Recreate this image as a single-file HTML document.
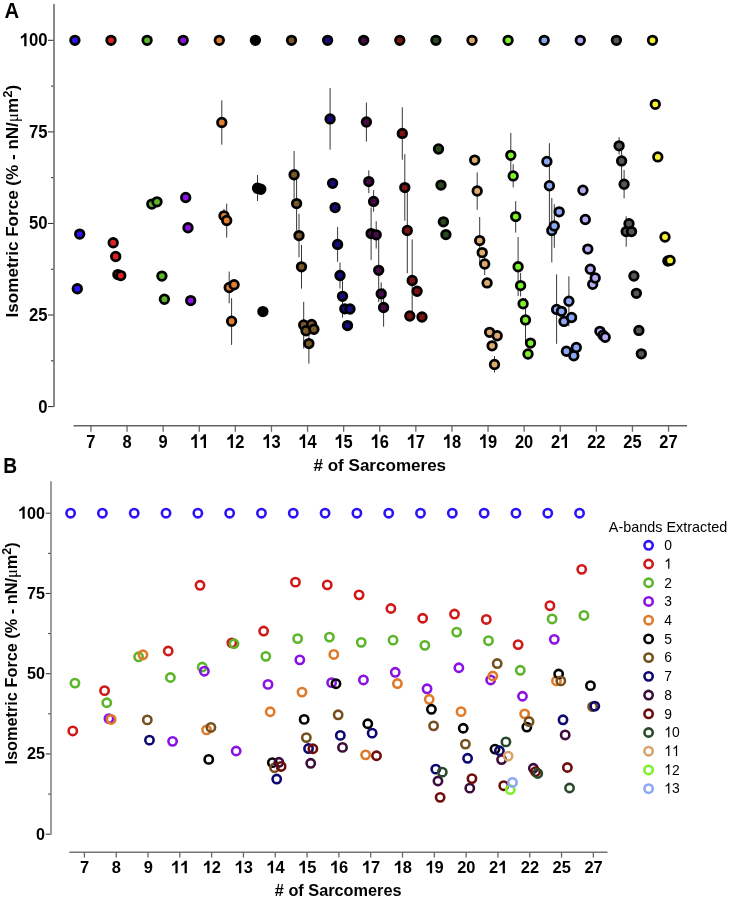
<!DOCTYPE html><html><head><meta charset="utf-8"><title>Isometric force vs sarcomeres</title>
<style>html,body{margin:0;padding:0;background:#fff;}svg{display:block;will-change:transform;}text{font-family:"Liberation Sans", sans-serif;}</style></head><body>
<svg width="730" height="899" viewBox="0 0 730 899">
<rect width="730" height="899" fill="#fff"/>
<g stroke="#626262" stroke-width="1.5" fill="none">
<line x1="54" y1="4" x2="54" y2="406.9"/>
<line x1="73.5" y1="425.7" x2="687" y2="425.7"/>
</g>
<g stroke="#2a2a2a" stroke-width="1.0">
<line x1="48" y1="40.3" x2="53.4" y2="40.3"/>
<line x1="51" y1="86.09" x2="53.4" y2="86.09"/>
<line x1="48" y1="131.88" x2="53.4" y2="131.88"/>
<line x1="51" y1="177.66" x2="53.4" y2="177.66"/>
<line x1="48" y1="223.45" x2="53.4" y2="223.45"/>
<line x1="51" y1="269.24" x2="53.4" y2="269.24"/>
<line x1="48" y1="315.03" x2="53.4" y2="315.03"/>
<line x1="51" y1="360.81" x2="53.4" y2="360.81"/>
<line x1="48" y1="406.6" x2="53.4" y2="406.6"/>
</g>
<g stroke="#666666" stroke-width="1.3">
<line x1="90.95" y1="425.7" x2="90.95" y2="431.8"/>
<line x1="127.05" y1="425.7" x2="127.05" y2="431.8"/>
<line x1="163.15" y1="425.7" x2="163.15" y2="431.8"/>
<line x1="199.25" y1="425.7" x2="199.25" y2="431.8"/>
<line x1="235.35" y1="425.7" x2="235.35" y2="431.8"/>
<line x1="271.45" y1="425.7" x2="271.45" y2="431.8"/>
<line x1="307.55" y1="425.7" x2="307.55" y2="431.8"/>
<line x1="343.65" y1="425.7" x2="343.65" y2="431.8"/>
<line x1="379.75" y1="425.7" x2="379.75" y2="431.8"/>
<line x1="415.85" y1="425.7" x2="415.85" y2="431.8"/>
<line x1="451.95" y1="425.7" x2="451.95" y2="431.8"/>
<line x1="488.05" y1="425.7" x2="488.05" y2="431.8"/>
<line x1="524.15" y1="425.7" x2="524.15" y2="431.8"/>
<line x1="560.25" y1="425.7" x2="560.25" y2="431.8"/>
<line x1="596.35" y1="425.7" x2="596.35" y2="431.8"/>
<line x1="632.45" y1="425.7" x2="632.45" y2="431.8"/>
<line x1="668.55" y1="425.7" x2="668.55" y2="431.8"/>
</g>
<g stroke="#747474" stroke-width="1.4" fill="none">
<line x1="51" y1="481.2" x2="51" y2="834.8"/>
<line x1="69.4" y1="852.2" x2="607.5" y2="852.2"/>
</g>
<g stroke="#2a2a2a" stroke-width="1.0">
<line x1="45.8" y1="513.2" x2="50.4" y2="513.2"/>
<line x1="48.2" y1="553.33" x2="50.4" y2="553.33"/>
<line x1="45.8" y1="593.45" x2="50.4" y2="593.45"/>
<line x1="48.2" y1="633.58" x2="50.4" y2="633.58"/>
<line x1="45.8" y1="673.7" x2="50.4" y2="673.7"/>
<line x1="48.2" y1="713.83" x2="50.4" y2="713.83"/>
<line x1="45.8" y1="753.95" x2="50.4" y2="753.95"/>
<line x1="48.2" y1="794.08" x2="50.4" y2="794.08"/>
<line x1="45.8" y1="834.2" x2="50.4" y2="834.2"/>
</g>
<g stroke="#666666" stroke-width="1.3">
<line x1="84.4" y1="852.2" x2="84.4" y2="857.6"/>
<line x1="116.21" y1="852.2" x2="116.21" y2="857.6"/>
<line x1="148.02" y1="852.2" x2="148.02" y2="857.6"/>
<line x1="179.83" y1="852.2" x2="179.83" y2="857.6"/>
<line x1="211.64" y1="852.2" x2="211.64" y2="857.6"/>
<line x1="243.45" y1="852.2" x2="243.45" y2="857.6"/>
<line x1="275.26" y1="852.2" x2="275.26" y2="857.6"/>
<line x1="307.07" y1="852.2" x2="307.07" y2="857.6"/>
<line x1="338.88" y1="852.2" x2="338.88" y2="857.6"/>
<line x1="370.69" y1="852.2" x2="370.69" y2="857.6"/>
<line x1="402.5" y1="852.2" x2="402.5" y2="857.6"/>
<line x1="434.31" y1="852.2" x2="434.31" y2="857.6"/>
<line x1="466.12" y1="852.2" x2="466.12" y2="857.6"/>
<line x1="497.93" y1="852.2" x2="497.93" y2="857.6"/>
<line x1="529.74" y1="852.2" x2="529.74" y2="857.6"/>
<line x1="561.55" y1="852.2" x2="561.55" y2="857.6"/>
<line x1="593.36" y1="852.2" x2="593.36" y2="857.6"/>
</g>
<text transform="translate(4.5 17.9) scale(1 1.05)" font-size="20.3" font-weight="bold">A</text>
<text transform="translate(3.2 472.5) scale(1 1.17)" font-size="19.2" font-weight="bold">B</text>
<g transform="translate(47.5 46.3) scale(0.95 1.04)"><path transform="translate(-29.36 0) scale(0.008594 -0.008594)" d="M845 0L565 0L565 1055Q410 910 150 846L150 1101Q290 1140 420 1240Q545 1340 590 1466L845 1466Z"/><text x="-19.58" font-size="17.6" font-weight="bold">0</text><text x="-9.79" font-size="17.6" font-weight="bold">0</text></g>
<g transform="translate(47.5 137.88) scale(0.95 1.04)"><text x="-19.58" font-size="17.6" font-weight="bold">7</text><text x="-9.79" font-size="17.6" font-weight="bold">5</text></g>
<g transform="translate(47.5 229.45) scale(0.95 1.04)"><text x="-19.58" font-size="17.6" font-weight="bold">5</text><text x="-9.79" font-size="17.6" font-weight="bold">0</text></g>
<g transform="translate(47.5 321.03) scale(0.95 1.04)"><text x="-19.58" font-size="17.6" font-weight="bold">2</text><text x="-9.79" font-size="17.6" font-weight="bold">5</text></g>
<g transform="translate(47.5 412.6) scale(0.95 1.04)"><text x="-9.79" font-size="17.6" font-weight="bold">0</text></g>
<g transform="translate(45 518.7) scale(0.94 1)"><path transform="translate(-28.7 0) scale(0.008398 -0.008398)" d="M845 0L565 0L565 1055Q410 910 150 846L150 1101Q290 1140 420 1240Q545 1340 590 1466L845 1466Z"/><text x="-19.13" font-size="17.2" font-weight="bold">0</text><text x="-9.57" font-size="17.2" font-weight="bold">0</text></g>
<g transform="translate(45 598.95) scale(0.94 1)"><text x="-19.13" font-size="17.2" font-weight="bold">7</text><text x="-9.57" font-size="17.2" font-weight="bold">5</text></g>
<g transform="translate(45 679.2) scale(0.94 1)"><text x="-19.13" font-size="17.2" font-weight="bold">5</text><text x="-9.57" font-size="17.2" font-weight="bold">0</text></g>
<g transform="translate(45 759.45) scale(0.94 1)"><text x="-19.13" font-size="17.2" font-weight="bold">2</text><text x="-9.57" font-size="17.2" font-weight="bold">5</text></g>
<g transform="translate(45 839.7) scale(0.94 1)"><text x="-9.57" font-size="17.2" font-weight="bold">0</text></g>
<g transform="translate(90.9 447.9) scale(1.07 1.23)"><text x="-4.28" font-size="15.4" font-weight="bold">7</text></g>
<g transform="translate(127 447.9) scale(1.07 1.23)"><text x="-4.28" font-size="15.4" font-weight="bold">8</text></g>
<g transform="translate(163.1 447.9) scale(1.07 1.23)"><text x="-4.28" font-size="15.4" font-weight="bold">9</text></g>
<g transform="translate(199.2 447.9) scale(1.07 1.23)"><path transform="translate(-8.56 0) scale(0.007520 -0.007520)" d="M845 0L565 0L565 1055Q410 910 150 846L150 1101Q290 1140 420 1240Q545 1340 590 1466L845 1466Z"/><path transform="translate(0 0) scale(0.007520 -0.007520)" d="M845 0L565 0L565 1055Q410 910 150 846L150 1101Q290 1140 420 1240Q545 1340 590 1466L845 1466Z"/></g>
<g transform="translate(235.3 447.9) scale(1.07 1.23)"><path transform="translate(-8.56 0) scale(0.007520 -0.007520)" d="M845 0L565 0L565 1055Q410 910 150 846L150 1101Q290 1140 420 1240Q545 1340 590 1466L845 1466Z"/><text x="0" font-size="15.4" font-weight="bold">2</text></g>
<g transform="translate(271.4 447.9) scale(1.07 1.23)"><path transform="translate(-8.56 0) scale(0.007520 -0.007520)" d="M845 0L565 0L565 1055Q410 910 150 846L150 1101Q290 1140 420 1240Q545 1340 590 1466L845 1466Z"/><text x="0" font-size="15.4" font-weight="bold">3</text></g>
<g transform="translate(307.5 447.9) scale(1.07 1.23)"><path transform="translate(-8.56 0) scale(0.007520 -0.007520)" d="M845 0L565 0L565 1055Q410 910 150 846L150 1101Q290 1140 420 1240Q545 1340 590 1466L845 1466Z"/><text x="0" font-size="15.4" font-weight="bold">4</text></g>
<g transform="translate(343.6 447.9) scale(1.07 1.23)"><path transform="translate(-8.56 0) scale(0.007520 -0.007520)" d="M845 0L565 0L565 1055Q410 910 150 846L150 1101Q290 1140 420 1240Q545 1340 590 1466L845 1466Z"/><text x="0" font-size="15.4" font-weight="bold">5</text></g>
<g transform="translate(379.7 447.9) scale(1.07 1.23)"><path transform="translate(-8.56 0) scale(0.007520 -0.007520)" d="M845 0L565 0L565 1055Q410 910 150 846L150 1101Q290 1140 420 1240Q545 1340 590 1466L845 1466Z"/><text x="0" font-size="15.4" font-weight="bold">6</text></g>
<g transform="translate(415.8 447.9) scale(1.07 1.23)"><path transform="translate(-8.56 0) scale(0.007520 -0.007520)" d="M845 0L565 0L565 1055Q410 910 150 846L150 1101Q290 1140 420 1240Q545 1340 590 1466L845 1466Z"/><text x="0" font-size="15.4" font-weight="bold">7</text></g>
<g transform="translate(451.9 447.9) scale(1.07 1.23)"><path transform="translate(-8.56 0) scale(0.007520 -0.007520)" d="M845 0L565 0L565 1055Q410 910 150 846L150 1101Q290 1140 420 1240Q545 1340 590 1466L845 1466Z"/><text x="0" font-size="15.4" font-weight="bold">8</text></g>
<g transform="translate(488 447.9) scale(1.07 1.23)"><path transform="translate(-8.56 0) scale(0.007520 -0.007520)" d="M845 0L565 0L565 1055Q410 910 150 846L150 1101Q290 1140 420 1240Q545 1340 590 1466L845 1466Z"/><text x="0" font-size="15.4" font-weight="bold">9</text></g>
<g transform="translate(524.1 447.9) scale(1.07 1.23)"><text x="-8.56" font-size="15.4" font-weight="bold">2</text><text x="0" font-size="15.4" font-weight="bold">0</text></g>
<g transform="translate(560.2 447.9) scale(1.07 1.23)"><text x="-8.56" font-size="15.4" font-weight="bold">2</text><path transform="translate(0 0) scale(0.007520 -0.007520)" d="M845 0L565 0L565 1055Q410 910 150 846L150 1101Q290 1140 420 1240Q545 1340 590 1466L845 1466Z"/></g>
<g transform="translate(596.3 447.9) scale(1.07 1.23)"><text x="-8.56" font-size="15.4" font-weight="bold">2</text><text x="0" font-size="15.4" font-weight="bold">2</text></g>
<g transform="translate(632.4 447.9) scale(1.07 1.23)"><text x="-8.56" font-size="15.4" font-weight="bold">2</text><text x="0" font-size="15.4" font-weight="bold">5</text></g>
<g transform="translate(668.5 447.9) scale(1.07 1.23)"><text x="-8.56" font-size="15.4" font-weight="bold">2</text><text x="0" font-size="15.4" font-weight="bold">7</text></g>
<g transform="translate(84.6 873.3) scale(1.07 1.13)"><text x="-4.28" font-size="15.4" font-weight="bold">7</text></g>
<g transform="translate(116.41 873.3) scale(1.07 1.13)"><text x="-4.28" font-size="15.4" font-weight="bold">8</text></g>
<g transform="translate(148.22 873.3) scale(1.07 1.13)"><text x="-4.28" font-size="15.4" font-weight="bold">9</text></g>
<g transform="translate(180.03 873.3) scale(1.07 1.13)"><path transform="translate(-8.56 0) scale(0.007520 -0.007520)" d="M845 0L565 0L565 1055Q410 910 150 846L150 1101Q290 1140 420 1240Q545 1340 590 1466L845 1466Z"/><path transform="translate(0 0) scale(0.007520 -0.007520)" d="M845 0L565 0L565 1055Q410 910 150 846L150 1101Q290 1140 420 1240Q545 1340 590 1466L845 1466Z"/></g>
<g transform="translate(211.84 873.3) scale(1.07 1.13)"><path transform="translate(-8.56 0) scale(0.007520 -0.007520)" d="M845 0L565 0L565 1055Q410 910 150 846L150 1101Q290 1140 420 1240Q545 1340 590 1466L845 1466Z"/><text x="0" font-size="15.4" font-weight="bold">2</text></g>
<g transform="translate(243.65 873.3) scale(1.07 1.13)"><path transform="translate(-8.56 0) scale(0.007520 -0.007520)" d="M845 0L565 0L565 1055Q410 910 150 846L150 1101Q290 1140 420 1240Q545 1340 590 1466L845 1466Z"/><text x="0" font-size="15.4" font-weight="bold">3</text></g>
<g transform="translate(275.46 873.3) scale(1.07 1.13)"><path transform="translate(-8.56 0) scale(0.007520 -0.007520)" d="M845 0L565 0L565 1055Q410 910 150 846L150 1101Q290 1140 420 1240Q545 1340 590 1466L845 1466Z"/><text x="0" font-size="15.4" font-weight="bold">4</text></g>
<g transform="translate(307.27 873.3) scale(1.07 1.13)"><path transform="translate(-8.56 0) scale(0.007520 -0.007520)" d="M845 0L565 0L565 1055Q410 910 150 846L150 1101Q290 1140 420 1240Q545 1340 590 1466L845 1466Z"/><text x="0" font-size="15.4" font-weight="bold">5</text></g>
<g transform="translate(339.08 873.3) scale(1.07 1.13)"><path transform="translate(-8.56 0) scale(0.007520 -0.007520)" d="M845 0L565 0L565 1055Q410 910 150 846L150 1101Q290 1140 420 1240Q545 1340 590 1466L845 1466Z"/><text x="0" font-size="15.4" font-weight="bold">6</text></g>
<g transform="translate(370.89 873.3) scale(1.07 1.13)"><path transform="translate(-8.56 0) scale(0.007520 -0.007520)" d="M845 0L565 0L565 1055Q410 910 150 846L150 1101Q290 1140 420 1240Q545 1340 590 1466L845 1466Z"/><text x="0" font-size="15.4" font-weight="bold">7</text></g>
<g transform="translate(402.7 873.3) scale(1.07 1.13)"><path transform="translate(-8.56 0) scale(0.007520 -0.007520)" d="M845 0L565 0L565 1055Q410 910 150 846L150 1101Q290 1140 420 1240Q545 1340 590 1466L845 1466Z"/><text x="0" font-size="15.4" font-weight="bold">8</text></g>
<g transform="translate(434.51 873.3) scale(1.07 1.13)"><path transform="translate(-8.56 0) scale(0.007520 -0.007520)" d="M845 0L565 0L565 1055Q410 910 150 846L150 1101Q290 1140 420 1240Q545 1340 590 1466L845 1466Z"/><text x="0" font-size="15.4" font-weight="bold">9</text></g>
<g transform="translate(466.32 873.3) scale(1.07 1.13)"><text x="-8.56" font-size="15.4" font-weight="bold">2</text><text x="0" font-size="15.4" font-weight="bold">0</text></g>
<g transform="translate(498.13 873.3) scale(1.07 1.13)"><text x="-8.56" font-size="15.4" font-weight="bold">2</text><path transform="translate(0 0) scale(0.007520 -0.007520)" d="M845 0L565 0L565 1055Q410 910 150 846L150 1101Q290 1140 420 1240Q545 1340 590 1466L845 1466Z"/></g>
<g transform="translate(529.94 873.3) scale(1.07 1.13)"><text x="-8.56" font-size="15.4" font-weight="bold">2</text><text x="0" font-size="15.4" font-weight="bold">2</text></g>
<g transform="translate(561.75 873.3) scale(1.07 1.13)"><text x="-8.56" font-size="15.4" font-weight="bold">2</text><text x="0" font-size="15.4" font-weight="bold">5</text></g>
<g transform="translate(593.56 873.3) scale(1.07 1.13)"><text x="-8.56" font-size="15.4" font-weight="bold">2</text><text x="0" font-size="15.4" font-weight="bold">7</text></g>
<text transform="translate(313.5 470.6) scale(1 1.07)" font-size="16" font-weight="bold" textLength="132.6" lengthAdjust="spacingAndGlyphs"># of Sarcomeres</text>
<text transform="translate(274.8 895.5) scale(1 1.05)" font-size="16" font-weight="bold" textLength="126.8" lengthAdjust="spacingAndGlyphs"># of Sarcomeres</text>
<text transform="translate(18.4 317.4) rotate(-90)" font-size="16.4" font-weight="bold" textLength="232.5" lengthAdjust="spacingAndGlyphs">Isometric Force (% - nN/<tspan font-family="Liberation Serif, serif" font-weight="normal">&#956;</tspan>m<tspan font-size="12.46" dy="-6.3">2</tspan><tspan dy="6.3">)</tspan></text>
<text transform="translate(17.2 764.6) rotate(-90)" font-size="16.2" font-weight="bold" textLength="222.3" lengthAdjust="spacingAndGlyphs">Isometric Force (% - nN/<tspan font-family="Liberation Serif, serif" font-weight="normal">&#956;</tspan>m<tspan font-size="12.31" dy="-6.3">2</tspan><tspan dy="6.3">)</tspan></text>
<text transform="translate(608.8 531.7) scale(1 1.1)" font-size="13.4" textLength="118.5" lengthAdjust="spacingAndGlyphs">A-bands Extracted</text>
<circle cx="648.6" cy="545.3" r="4.15" fill="none" stroke="#2b12f7" stroke-width="2.6"/>
<g transform="translate(664.2 550.1) scale(1 1.07)"><text x="0" font-size="13.9">0</text></g>
<circle cx="648.6" cy="564.02" r="4.15" fill="none" stroke="#d01818" stroke-width="2.6"/>
<g transform="translate(664.2 568.82) scale(1 1.07)"><path transform="translate(0 0) scale(0.006787 -0.006787)" d="M763 0L583 0L583 1147Q518 1085 412 1023Q307 961 223 930L223 1104Q374 1175 487 1276Q600 1377 647 1472L763 1472Z"/></g>
<circle cx="648.6" cy="582.74" r="4.15" fill="none" stroke="#5cb52a" stroke-width="2.6"/>
<g transform="translate(664.2 587.54) scale(1 1.07)"><text x="0" font-size="13.9">2</text></g>
<circle cx="648.6" cy="601.46" r="4.15" fill="none" stroke="#8a12e2" stroke-width="2.6"/>
<g transform="translate(664.2 606.26) scale(1 1.07)"><text x="0" font-size="13.9">3</text></g>
<circle cx="648.6" cy="620.18" r="4.15" fill="none" stroke="#e07a28" stroke-width="2.6"/>
<g transform="translate(664.2 624.98) scale(1 1.07)"><text x="0" font-size="13.9">4</text></g>
<circle cx="648.6" cy="638.9" r="4.15" fill="none" stroke="#000000" stroke-width="2.6"/>
<g transform="translate(664.2 643.7) scale(1 1.07)"><text x="0" font-size="13.9">5</text></g>
<circle cx="648.6" cy="657.62" r="4.15" fill="none" stroke="#73501e" stroke-width="2.6"/>
<g transform="translate(664.2 662.42) scale(1 1.07)"><text x="0" font-size="13.9">6</text></g>
<circle cx="648.6" cy="676.34" r="4.15" fill="none" stroke="#0c0870" stroke-width="2.6"/>
<g transform="translate(664.2 681.14) scale(1 1.07)"><text x="0" font-size="13.9">7</text></g>
<circle cx="648.6" cy="695.06" r="4.15" fill="none" stroke="#3c0a3c" stroke-width="2.6"/>
<g transform="translate(664.2 699.86) scale(1 1.07)"><text x="0" font-size="13.9">8</text></g>
<circle cx="648.6" cy="713.78" r="4.15" fill="none" stroke="#6e0c0c" stroke-width="2.6"/>
<g transform="translate(664.2 718.58) scale(1 1.07)"><text x="0" font-size="13.9">9</text></g>
<circle cx="648.6" cy="732.5" r="4.15" fill="none" stroke="#294a2a" stroke-width="2.6"/>
<g transform="translate(664.2 737.3) scale(1 1.07)"><path transform="translate(0 0) scale(0.006787 -0.006787)" d="M763 0L583 0L583 1147Q518 1085 412 1023Q307 961 223 930L223 1104Q374 1175 487 1276Q600 1377 647 1472L763 1472Z"/><text x="7.73" font-size="13.9">0</text></g>
<circle cx="648.6" cy="751.22" r="4.15" fill="none" stroke="#d8a46c" stroke-width="2.6"/>
<g transform="translate(664.2 756.02) scale(1 1.07)"><path transform="translate(0 0) scale(0.006787 -0.006787)" d="M763 0L583 0L583 1147Q518 1085 412 1023Q307 961 223 930L223 1104Q374 1175 487 1276Q600 1377 647 1472L763 1472Z"/><path transform="translate(7.73 0) scale(0.006787 -0.006787)" d="M763 0L583 0L583 1147Q518 1085 412 1023Q307 961 223 930L223 1104Q374 1175 487 1276Q600 1377 647 1472L763 1472Z"/></g>
<circle cx="648.6" cy="769.94" r="4.15" fill="none" stroke="#7cf22a" stroke-width="2.6"/>
<g transform="translate(664.2 774.74) scale(1 1.07)"><path transform="translate(0 0) scale(0.006787 -0.006787)" d="M763 0L583 0L583 1147Q518 1085 412 1023Q307 961 223 930L223 1104Q374 1175 487 1276Q600 1377 647 1472L763 1472Z"/><text x="7.73" font-size="13.9">2</text></g>
<circle cx="648.6" cy="788.66" r="4.15" fill="none" stroke="#8ca8f4" stroke-width="2.6"/>
<g transform="translate(664.2 793.46) scale(1 1.07)"><path transform="translate(0 0) scale(0.006787 -0.006787)" d="M763 0L583 0L583 1147Q518 1085 412 1023Q307 961 223 930L223 1104Q374 1175 487 1276Q600 1377 647 1472L763 1472Z"/><text x="7.73" font-size="13.9">3</text></g>
<g stroke="#383838" stroke-width="1.0">
<line x1="221.8" y1="100.3" x2="221.8" y2="144.7"/>
<line x1="224" y1="208.8" x2="224" y2="222.8"/>
<line x1="226.7" y1="203.7" x2="226.7" y2="237.6"/>
<line x1="229.2" y1="271.5" x2="229.2" y2="303.3"/>
<line x1="231.6" y1="298.2" x2="231.6" y2="344.9"/>
<line x1="257.5" y1="175" x2="257.5" y2="201"/>
<line x1="294.1" y1="151" x2="294.1" y2="198.5"/>
<line x1="296.6" y1="178" x2="296.6" y2="230.7"/>
<line x1="299" y1="213.8" x2="299" y2="257.3"/>
<line x1="301.5" y1="244.9" x2="301.5" y2="288.6"/>
<line x1="303.7" y1="301.9" x2="303.7" y2="348.5"/>
<line x1="308.9" y1="323.6" x2="308.9" y2="363.6"/>
<line x1="330.1" y1="88" x2="330.1" y2="149.7"/>
<line x1="337.6" y1="227.1" x2="337.6" y2="261.8"/>
<line x1="340" y1="262.5" x2="340" y2="288.5"/>
<line x1="342.5" y1="275" x2="342.5" y2="317.6"/>
<line x1="366.4" y1="102.5" x2="366.4" y2="141.6"/>
<line x1="368.8" y1="170.3" x2="368.8" y2="193.1"/>
<line x1="371.1" y1="207.5" x2="371.1" y2="259.9"/>
<line x1="373.6" y1="190.1" x2="373.6" y2="211.6"/>
<line x1="376.2" y1="221.2" x2="376.2" y2="248.6"/>
<line x1="378.7" y1="238" x2="378.7" y2="302"/>
<line x1="381.2" y1="282.5" x2="381.2" y2="305"/>
<line x1="383.6" y1="288.3" x2="383.6" y2="326.7"/>
<line x1="402.3" y1="107.3" x2="402.3" y2="159.7"/>
<line x1="404.8" y1="154.1" x2="404.8" y2="220.8"/>
<line x1="407.3" y1="187.8" x2="407.3" y2="273.2"/>
<line x1="412.2" y1="239.3" x2="412.2" y2="313.3"/>
<line x1="477.2" y1="172.4" x2="477.2" y2="209.8"/>
<line x1="479.7" y1="217" x2="479.7" y2="264"/>
<line x1="484.7" y1="253" x2="484.7" y2="275"/>
<line x1="494.5" y1="356" x2="494.5" y2="372.5"/>
<line x1="510.8" y1="132.9" x2="510.8" y2="177"/>
<line x1="513.2" y1="164.2" x2="513.2" y2="187.4"/>
<line x1="515.7" y1="201.2" x2="515.7" y2="232.6"/>
<line x1="518.1" y1="237.1" x2="518.1" y2="296"/>
<line x1="520.6" y1="272.9" x2="520.6" y2="296.5"/>
<line x1="525.5" y1="298" x2="525.5" y2="342.7"/>
<line x1="549.4" y1="143.2" x2="549.4" y2="228"/>
<line x1="551.8" y1="198" x2="551.8" y2="262.4"/>
<line x1="554.3" y1="204.2" x2="554.3" y2="247.8"/>
<line x1="556.6" y1="274.3" x2="556.6" y2="343.8"/>
<line x1="568.9" y1="276.4" x2="568.9" y2="326.3"/>
<line x1="619.1" y1="137.2" x2="619.1" y2="154.4"/>
<line x1="621.6" y1="141" x2="621.6" y2="180"/>
<line x1="624.1" y1="170" x2="624.1" y2="198.4"/>
<line x1="626.2" y1="216.3" x2="626.2" y2="246.7"/>
</g>
<g stroke="#000" stroke-width="2.75">
<circle cx="74.9" cy="40.3" r="4.3" fill="#2b12f7"/>
<circle cx="77.3" cy="288.7" r="4.3" fill="#2b12f7"/>
<circle cx="79.7" cy="234.1" r="4.3" fill="#2b12f7"/>
<circle cx="111" cy="40.3" r="4.3" fill="#dc2323"/>
<circle cx="113.2" cy="242.7" r="4.3" fill="#dc2323"/>
<circle cx="115.7" cy="256.5" r="4.3" fill="#dc2323"/>
<circle cx="117.9" cy="274.6" r="4.3" fill="#dc2323"/>
<circle cx="120.8" cy="275.6" r="4.3" fill="#dc2323"/>
<circle cx="147.1" cy="40.3" r="4.3" fill="#5cb52a"/>
<circle cx="151.8" cy="204.1" r="4.3" fill="#5cb52a"/>
<circle cx="157" cy="201.8" r="4.3" fill="#5cb52a"/>
<circle cx="161.9" cy="276.1" r="4.3" fill="#5cb52a"/>
<circle cx="164.4" cy="299.2" r="4.3" fill="#5cb52a"/>
<circle cx="183.2" cy="40.3" r="4.3" fill="#8a12e2"/>
<circle cx="185.7" cy="197.5" r="4.3" fill="#8a12e2"/>
<circle cx="188" cy="227.7" r="4.3" fill="#8a12e2"/>
<circle cx="190.7" cy="300.6" r="4.3" fill="#8a12e2"/>
<circle cx="219.3" cy="40.3" r="4.3" fill="#e27e2e"/>
<circle cx="221.8" cy="122.5" r="4.3" fill="#e27e2e"/>
<circle cx="224" cy="215.8" r="4.3" fill="#e27e2e"/>
<circle cx="226.7" cy="220.5" r="4.3" fill="#e27e2e"/>
<circle cx="229.2" cy="287.5" r="4.3" fill="#e27e2e"/>
<circle cx="231.6" cy="321.2" r="4.3" fill="#e27e2e"/>
<circle cx="234.1" cy="284.7" r="4.3" fill="#e27e2e"/>
<circle cx="255.4" cy="40.3" r="4.3" fill="#000000"/>
<circle cx="257.5" cy="188.2" r="4.3" fill="#000000"/>
<circle cx="260.8" cy="189.2" r="4.3" fill="#000000"/>
<circle cx="262.9" cy="311.6" r="4.3" fill="#000000"/>
<circle cx="291.5" cy="40.3" r="4.3" fill="#7a5828"/>
<circle cx="294.1" cy="174.7" r="4.3" fill="#7a5828"/>
<circle cx="296.6" cy="203.6" r="4.3" fill="#7a5828"/>
<circle cx="299" cy="235.6" r="4.3" fill="#7a5828"/>
<circle cx="301.5" cy="266.8" r="4.3" fill="#7a5828"/>
<circle cx="303.7" cy="324.9" r="4.3" fill="#7a5828"/>
<circle cx="306" cy="330.7" r="4.3" fill="#7a5828"/>
<circle cx="308.9" cy="343.6" r="4.3" fill="#7a5828"/>
<circle cx="311.6" cy="324.5" r="4.3" fill="#7a5828"/>
<circle cx="313.9" cy="329.2" r="4.3" fill="#7a5828"/>
<circle cx="327.6" cy="40.3" r="4.3" fill="#150c7c"/>
<circle cx="330.1" cy="118.9" r="4.3" fill="#150c7c"/>
<circle cx="332.6" cy="183.3" r="4.3" fill="#150c7c"/>
<circle cx="335.1" cy="207.6" r="4.3" fill="#150c7c"/>
<circle cx="337.6" cy="244.4" r="4.3" fill="#150c7c"/>
<circle cx="340" cy="275.5" r="4.3" fill="#150c7c"/>
<circle cx="342.5" cy="296.3" r="4.3" fill="#150c7c"/>
<circle cx="344.8" cy="308.8" r="4.3" fill="#150c7c"/>
<circle cx="347.5" cy="325.6" r="4.3" fill="#150c7c"/>
<circle cx="350" cy="309" r="4.3" fill="#150c7c"/>
<circle cx="363.7" cy="40.3" r="4.3" fill="#470c48"/>
<circle cx="366.4" cy="122" r="4.3" fill="#470c48"/>
<circle cx="368.8" cy="181.6" r="4.3" fill="#470c48"/>
<circle cx="371.1" cy="233.6" r="4.3" fill="#470c48"/>
<circle cx="373.6" cy="201.4" r="4.3" fill="#470c48"/>
<circle cx="376.2" cy="234.8" r="4.3" fill="#470c48"/>
<circle cx="378.7" cy="270.3" r="4.3" fill="#470c48"/>
<circle cx="381.2" cy="293.8" r="4.3" fill="#470c48"/>
<circle cx="383.6" cy="307.5" r="4.3" fill="#470c48"/>
<circle cx="399.8" cy="40.3" r="4.3" fill="#7c1414"/>
<circle cx="402.3" cy="133.4" r="4.3" fill="#7c1414"/>
<circle cx="404.8" cy="187.6" r="4.3" fill="#7c1414"/>
<circle cx="407.3" cy="230.5" r="4.3" fill="#7c1414"/>
<circle cx="409.8" cy="316" r="4.3" fill="#7c1414"/>
<circle cx="412.2" cy="280.5" r="4.3" fill="#7c1414"/>
<circle cx="417.1" cy="291.2" r="4.3" fill="#7c1414"/>
<circle cx="422" cy="317" r="4.3" fill="#7c1414"/>
<circle cx="435.9" cy="40.3" r="4.3" fill="#294a1e"/>
<circle cx="438.5" cy="149" r="4.3" fill="#294a1e"/>
<circle cx="441" cy="185.1" r="4.3" fill="#294a1e"/>
<circle cx="443.4" cy="221.8" r="4.3" fill="#294a1e"/>
<circle cx="445.9" cy="234.6" r="4.3" fill="#294a1e"/>
<circle cx="472" cy="40.3" r="4.3" fill="#deaa6e"/>
<circle cx="474.7" cy="160.1" r="4.3" fill="#deaa6e"/>
<circle cx="477.2" cy="191" r="4.3" fill="#deaa6e"/>
<circle cx="479.7" cy="240.6" r="4.3" fill="#deaa6e"/>
<circle cx="482.2" cy="252.6" r="4.3" fill="#deaa6e"/>
<circle cx="484.7" cy="264" r="4.3" fill="#deaa6e"/>
<circle cx="487.1" cy="282.9" r="4.3" fill="#deaa6e"/>
<circle cx="489.6" cy="332.3" r="4.3" fill="#deaa6e"/>
<circle cx="492.1" cy="345.8" r="4.3" fill="#deaa6e"/>
<circle cx="494.5" cy="364.5" r="4.3" fill="#deaa6e"/>
<circle cx="497.2" cy="335.7" r="4.3" fill="#deaa6e"/>
<circle cx="508.1" cy="40.3" r="4.3" fill="#7cf22a"/>
<circle cx="510.8" cy="155.3" r="4.3" fill="#7cf22a"/>
<circle cx="513.2" cy="175.9" r="4.3" fill="#7cf22a"/>
<circle cx="515.7" cy="216.6" r="4.3" fill="#7cf22a"/>
<circle cx="518.1" cy="266.7" r="4.3" fill="#7cf22a"/>
<circle cx="520.6" cy="285.6" r="4.3" fill="#7cf22a"/>
<circle cx="523.1" cy="303.7" r="4.3" fill="#7cf22a"/>
<circle cx="525.5" cy="319.9" r="4.3" fill="#7cf22a"/>
<circle cx="528" cy="354" r="4.3" fill="#7cf22a"/>
<circle cx="530.5" cy="343.1" r="4.3" fill="#7cf22a"/>
<circle cx="544.2" cy="40.3" r="4.3" fill="#8ca8f4"/>
<circle cx="546.9" cy="161.5" r="4.3" fill="#8ca8f4"/>
<circle cx="549.4" cy="185.7" r="4.3" fill="#8ca8f4"/>
<circle cx="551.8" cy="230.5" r="4.3" fill="#8ca8f4"/>
<circle cx="554.3" cy="226" r="4.3" fill="#8ca8f4"/>
<circle cx="556.6" cy="309.4" r="4.3" fill="#8ca8f4"/>
<circle cx="559.2" cy="211.8" r="4.3" fill="#8ca8f4"/>
<circle cx="561.5" cy="311.3" r="4.3" fill="#8ca8f4"/>
<circle cx="564" cy="321.4" r="4.3" fill="#8ca8f4"/>
<circle cx="566.4" cy="351.2" r="4.3" fill="#8ca8f4"/>
<circle cx="568.9" cy="301.2" r="4.3" fill="#8ca8f4"/>
<circle cx="571.6" cy="317.5" r="4.3" fill="#8ca8f4"/>
<circle cx="573.8" cy="355.7" r="4.3" fill="#8ca8f4"/>
<circle cx="576.3" cy="347.5" r="4.3" fill="#8ca8f4"/>
<circle cx="580.3" cy="40.3" r="4.3" fill="#b6aaf7"/>
<circle cx="582.9" cy="190.2" r="4.3" fill="#b6aaf7"/>
<circle cx="585.3" cy="219.5" r="4.3" fill="#b6aaf7"/>
<circle cx="587.8" cy="249.1" r="4.3" fill="#b6aaf7"/>
<circle cx="590.3" cy="269.2" r="4.3" fill="#b6aaf7"/>
<circle cx="592.7" cy="284.3" r="4.3" fill="#b6aaf7"/>
<circle cx="595.2" cy="278" r="4.3" fill="#b6aaf7"/>
<circle cx="599.9" cy="331.3" r="4.3" fill="#b6aaf7"/>
<circle cx="603" cy="335.2" r="4.3" fill="#b6aaf7"/>
<circle cx="605.2" cy="337.2" r="4.3" fill="#b6aaf7"/>
<circle cx="616.4" cy="40.3" r="4.3" fill="#565656"/>
<circle cx="619.1" cy="145.8" r="4.3" fill="#565656"/>
<circle cx="621.6" cy="160.9" r="4.3" fill="#565656"/>
<circle cx="624.1" cy="184.2" r="4.3" fill="#565656"/>
<circle cx="626.2" cy="231.6" r="4.3" fill="#565656"/>
<circle cx="629" cy="223.7" r="4.3" fill="#565656"/>
<circle cx="631.5" cy="231.6" r="4.3" fill="#565656"/>
<circle cx="633.9" cy="276" r="4.3" fill="#565656"/>
<circle cx="636.4" cy="293.3" r="4.3" fill="#565656"/>
<circle cx="638.9" cy="330.4" r="4.3" fill="#565656"/>
<circle cx="641.3" cy="353.8" r="4.3" fill="#565656"/>
<circle cx="652.5" cy="40.3" r="4.3" fill="#f6f033"/>
<circle cx="655.3" cy="104.3" r="4.3" fill="#f6f033"/>
<circle cx="657.8" cy="156.9" r="4.3" fill="#f6f033"/>
<circle cx="665" cy="237" r="4.3" fill="#f6f033"/>
<circle cx="667.9" cy="261" r="4.3" fill="#f6f033"/>
<circle cx="670.1" cy="260.4" r="4.3" fill="#f6f033"/>
</g>
<g fill="none" stroke-width="2.6">
<circle cx="70.6" cy="513.2" r="4.15" stroke="#2b12f7"/>
<circle cx="72.78" cy="730.94" r="4.15" stroke="#d01818"/>
<circle cx="74.96" cy="683.1" r="4.15" stroke="#5cb52a"/>
<circle cx="102.41" cy="513.2" r="4.15" stroke="#2b12f7"/>
<circle cx="104.59" cy="690.63" r="4.15" stroke="#d01818"/>
<circle cx="106.77" cy="702.73" r="4.15" stroke="#5cb52a"/>
<circle cx="108.95" cy="718.59" r="4.15" stroke="#8a12e2"/>
<circle cx="111.13" cy="719.46" r="4.15" stroke="#e07a28"/>
<circle cx="134.22" cy="513.2" r="4.15" stroke="#2b12f7"/>
<circle cx="138.58" cy="656.81" r="4.15" stroke="#5cb52a"/>
<circle cx="142.94" cy="654.79" r="4.15" stroke="#e07a28"/>
<circle cx="147.3" cy="719.9" r="4.15" stroke="#73501e"/>
<circle cx="149.48" cy="740.14" r="4.15" stroke="#0c0870"/>
<circle cx="166.03" cy="513.2" r="4.15" stroke="#2b12f7"/>
<circle cx="168.21" cy="651.02" r="4.15" stroke="#d01818"/>
<circle cx="170.39" cy="677.49" r="4.15" stroke="#5cb52a"/>
<circle cx="172.57" cy="741.37" r="4.15" stroke="#8a12e2"/>
<circle cx="197.84" cy="513.2" r="4.15" stroke="#2b12f7"/>
<circle cx="200.02" cy="585.3" r="4.15" stroke="#d01818"/>
<circle cx="202.2" cy="667.06" r="4.15" stroke="#5cb52a"/>
<circle cx="204.38" cy="671.18" r="4.15" stroke="#8a12e2"/>
<circle cx="206.56" cy="729.89" r="4.15" stroke="#e07a28"/>
<circle cx="208.74" cy="759.42" r="4.15" stroke="#000000"/>
<circle cx="210.92" cy="727.44" r="4.15" stroke="#73501e"/>
<circle cx="229.65" cy="513.2" r="4.15" stroke="#2b12f7"/>
<circle cx="231.83" cy="642.87" r="4.15" stroke="#d01818"/>
<circle cx="234.01" cy="643.75" r="4.15" stroke="#5cb52a"/>
<circle cx="236.19" cy="751.01" r="4.15" stroke="#8a12e2"/>
<circle cx="261.46" cy="513.2" r="4.15" stroke="#2b12f7"/>
<circle cx="263.64" cy="631.04" r="4.15" stroke="#d01818"/>
<circle cx="265.82" cy="656.37" r="4.15" stroke="#5cb52a"/>
<circle cx="268" cy="684.41" r="4.15" stroke="#8a12e2"/>
<circle cx="270.18" cy="711.75" r="4.15" stroke="#e07a28"/>
<circle cx="272.36" cy="762.67" r="4.15" stroke="#000000"/>
<circle cx="274.54" cy="767.75" r="4.15" stroke="#73501e"/>
<circle cx="276.72" cy="779.05" r="4.15" stroke="#0c0870"/>
<circle cx="278.9" cy="762.32" r="4.15" stroke="#3c0a3c"/>
<circle cx="281.08" cy="766.43" r="4.15" stroke="#6e0c0c"/>
<circle cx="293.27" cy="513.2" r="4.15" stroke="#2b12f7"/>
<circle cx="295.45" cy="582.14" r="4.15" stroke="#d01818"/>
<circle cx="297.63" cy="638.58" r="4.15" stroke="#5cb52a"/>
<circle cx="299.81" cy="659.87" r="4.15" stroke="#8a12e2"/>
<circle cx="301.99" cy="692.12" r="4.15" stroke="#e07a28"/>
<circle cx="304.17" cy="719.38" r="4.15" stroke="#000000"/>
<circle cx="306.35" cy="737.6" r="4.15" stroke="#73501e"/>
<circle cx="308.53" cy="748.56" r="4.15" stroke="#0c0870"/>
<circle cx="310.71" cy="763.28" r="4.15" stroke="#3c0a3c"/>
<circle cx="312.89" cy="748.73" r="4.15" stroke="#6e0c0c"/>
<circle cx="325.08" cy="513.2" r="4.15" stroke="#2b12f7"/>
<circle cx="327.26" cy="584.86" r="4.15" stroke="#d01818"/>
<circle cx="329.44" cy="637.09" r="4.15" stroke="#5cb52a"/>
<circle cx="331.62" cy="682.66" r="4.15" stroke="#8a12e2"/>
<circle cx="333.8" cy="654.44" r="4.15" stroke="#e07a28"/>
<circle cx="335.98" cy="683.71" r="4.15" stroke="#000000"/>
<circle cx="338.16" cy="714.82" r="4.15" stroke="#73501e"/>
<circle cx="340.34" cy="735.41" r="4.15" stroke="#0c0870"/>
<circle cx="342.52" cy="747.42" r="4.15" stroke="#3c0a3c"/>
<circle cx="356.89" cy="513.2" r="4.15" stroke="#2b12f7"/>
<circle cx="359.07" cy="594.85" r="4.15" stroke="#d01818"/>
<circle cx="361.25" cy="642.35" r="4.15" stroke="#5cb52a"/>
<circle cx="363.43" cy="679.94" r="4.15" stroke="#8a12e2"/>
<circle cx="365.61" cy="754.87" r="4.15" stroke="#e07a28"/>
<circle cx="367.79" cy="723.76" r="4.15" stroke="#000000"/>
<circle cx="372.15" cy="733.13" r="4.15" stroke="#0c0870"/>
<circle cx="376.51" cy="755.74" r="4.15" stroke="#6e0c0c"/>
<circle cx="388.7" cy="513.2" r="4.15" stroke="#2b12f7"/>
<circle cx="390.88" cy="608.52" r="4.15" stroke="#d01818"/>
<circle cx="393.06" cy="640.16" r="4.15" stroke="#5cb52a"/>
<circle cx="395.24" cy="672.32" r="4.15" stroke="#8a12e2"/>
<circle cx="397.42" cy="683.53" r="4.15" stroke="#e07a28"/>
<circle cx="420.51" cy="513.2" r="4.15" stroke="#2b12f7"/>
<circle cx="422.69" cy="618.25" r="4.15" stroke="#d01818"/>
<circle cx="424.87" cy="645.33" r="4.15" stroke="#5cb52a"/>
<circle cx="427.05" cy="688.79" r="4.15" stroke="#8a12e2"/>
<circle cx="429.23" cy="699.31" r="4.15" stroke="#e07a28"/>
<circle cx="431.41" cy="709.3" r="4.15" stroke="#000000"/>
<circle cx="433.59" cy="725.86" r="4.15" stroke="#73501e"/>
<circle cx="435.77" cy="769.15" r="4.15" stroke="#0c0870"/>
<circle cx="437.95" cy="780.98" r="4.15" stroke="#3c0a3c"/>
<circle cx="440.13" cy="797.37" r="4.15" stroke="#6e0c0c"/>
<circle cx="442.31" cy="772.13" r="4.15" stroke="#294a2a"/>
<circle cx="452.32" cy="513.2" r="4.15" stroke="#2b12f7"/>
<circle cx="454.5" cy="614.04" r="4.15" stroke="#d01818"/>
<circle cx="456.68" cy="632.09" r="4.15" stroke="#5cb52a"/>
<circle cx="458.86" cy="667.76" r="4.15" stroke="#8a12e2"/>
<circle cx="461.04" cy="711.66" r="4.15" stroke="#e07a28"/>
<circle cx="463.22" cy="728.23" r="4.15" stroke="#000000"/>
<circle cx="465.4" cy="744.09" r="4.15" stroke="#73501e"/>
<circle cx="467.58" cy="758.29" r="4.15" stroke="#0c0870"/>
<circle cx="469.76" cy="788.17" r="4.15" stroke="#3c0a3c"/>
<circle cx="471.94" cy="778.62" r="4.15" stroke="#6e0c0c"/>
<circle cx="484.13" cy="513.2" r="4.15" stroke="#2b12f7"/>
<circle cx="486.31" cy="619.47" r="4.15" stroke="#d01818"/>
<circle cx="488.49" cy="640.68" r="4.15" stroke="#5cb52a"/>
<circle cx="490.67" cy="679.94" r="4.15" stroke="#8a12e2"/>
<circle cx="492.85" cy="676" r="4.15" stroke="#e07a28"/>
<circle cx="495.03" cy="749.08" r="4.15" stroke="#000000"/>
<circle cx="497.21" cy="663.55" r="4.15" stroke="#73501e"/>
<circle cx="499.39" cy="750.75" r="4.15" stroke="#0c0870"/>
<circle cx="501.57" cy="759.6" r="4.15" stroke="#3c0a3c"/>
<circle cx="503.75" cy="785.71" r="4.15" stroke="#6e0c0c"/>
<circle cx="505.93" cy="741.9" r="4.15" stroke="#294a2a"/>
<circle cx="508.11" cy="756.18" r="4.15" stroke="#d8a46c"/>
<circle cx="510.29" cy="789.66" r="4.15" stroke="#7cf22a"/>
<circle cx="512.47" cy="782.47" r="4.15" stroke="#8ca8f4"/>
<circle cx="515.94" cy="513.2" r="4.15" stroke="#2b12f7"/>
<circle cx="518.12" cy="644.62" r="4.15" stroke="#d01818"/>
<circle cx="520.3" cy="670.3" r="4.15" stroke="#5cb52a"/>
<circle cx="522.48" cy="696.24" r="4.15" stroke="#8a12e2"/>
<circle cx="524.66" cy="713.86" r="4.15" stroke="#e07a28"/>
<circle cx="526.84" cy="727.09" r="4.15" stroke="#000000"/>
<circle cx="529.02" cy="721.57" r="4.15" stroke="#73501e"/>
<circle cx="533.38" cy="768.28" r="4.15" stroke="#3c0a3c"/>
<circle cx="535.56" cy="771.69" r="4.15" stroke="#6e0c0c"/>
<circle cx="537.74" cy="773.45" r="4.15" stroke="#294a2a"/>
<circle cx="547.75" cy="513.2" r="4.15" stroke="#2b12f7"/>
<circle cx="549.93" cy="605.72" r="4.15" stroke="#d01818"/>
<circle cx="552.11" cy="618.95" r="4.15" stroke="#5cb52a"/>
<circle cx="554.29" cy="639.37" r="4.15" stroke="#8a12e2"/>
<circle cx="556.47" cy="680.9" r="4.15" stroke="#e07a28"/>
<circle cx="558.65" cy="673.98" r="4.15" stroke="#000000"/>
<circle cx="560.83" cy="680.9" r="4.15" stroke="#73501e"/>
<circle cx="563.01" cy="719.81" r="4.15" stroke="#0c0870"/>
<circle cx="565.19" cy="734.97" r="4.15" stroke="#3c0a3c"/>
<circle cx="567.37" cy="767.49" r="4.15" stroke="#6e0c0c"/>
<circle cx="569.55" cy="787.99" r="4.15" stroke="#294a2a"/>
<circle cx="579.56" cy="513.2" r="4.15" stroke="#2b12f7"/>
<circle cx="581.74" cy="569.35" r="4.15" stroke="#d01818"/>
<circle cx="583.92" cy="615.44" r="4.15" stroke="#5cb52a"/>
<circle cx="590.46" cy="685.64" r="4.15" stroke="#000000"/>
<circle cx="592.64" cy="706.67" r="4.15" stroke="#73501e"/>
<circle cx="594.82" cy="706.14" r="4.15" stroke="#0c0870"/>
</g>
</svg></body></html>
